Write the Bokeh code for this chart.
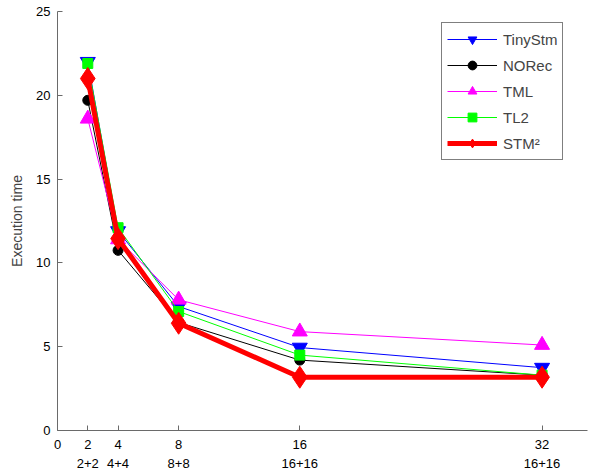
import numpy as np
from bokeh.plotting import figure
from bokeh.models import FixedTicker, LinearAxis, Range1d, Legend, LegendItem
from bokeh.embed import file_html
from bokeh.resources import INLINE

# ---- data ----
threads = [2, 4, 8, 16, 32]
x_ticks = [0, 2, 4, 8, 16, 32]
x_sub_labels = ["2+2", "4+4", "8+8", "16+16", "16+16"]
y_ticks = [0, 5, 10, 15, 20, 25]

tinystm = [22.0, 11.9, 7.4, 4.95, 3.75]
norec = [19.7, 10.75, 6.45, 4.2, 3.3]
tml = [18.6, 11.4, 7.8, 5.9, 5.1]
tl2 = [21.9, 12.1, 7.1, 4.5, 3.3]
stm2 = [21.0, 11.45, 6.4, 3.18, 3.18]

FONT = "Liberation Sans"

p = figure(width=593, height=473, x_range=Range1d(0, 35), y_range=Range1d(0, 25),
           output_backend="svg", toolbar_location=None,
           min_border_left=57, min_border_right=6, min_border_top=11, min_border_bottom=43)
p.outline_line_color = None
p.xgrid.visible = False
p.ygrid.visible = False

AX = "#6a6a6a"
for ax in [p.xaxis[0], p.yaxis[0]]:
    ax.axis_line_color = AX
    ax.major_tick_line_color = AX
    ax.major_tick_in = 5
    ax.major_tick_out = 0
    ax.minor_tick_line_color = None
    ax.major_label_text_font = FONT
    ax.major_label_text_font_size = "13px"
    ax.major_label_text_color = "black"

p.xaxis[0].ticker = FixedTicker(ticks=x_ticks)
p.xaxis[0].major_label_standoff = 9
p.yaxis[0].ticker = FixedTicker(ticks=y_ticks)
p.yaxis[0].major_label_standoff = 7
p.yaxis[0].axis_label = "Execution time"
p.yaxis[0].axis_label_text_font = FONT
p.yaxis[0].axis_label_text_font_size = "14px"
p.yaxis[0].axis_label_text_font_style = "normal"
p.yaxis[0].axis_label_standoff = 8

ax2 = LinearAxis(ticker=FixedTicker(ticks=threads),
                 major_label_overrides={t: s for t, s in zip(threads, x_sub_labels)},
                 axis_line_color=None, major_tick_line_color=None,
                 major_tick_in=0, major_tick_out=0, minor_tick_line_color=None,
                 major_label_standoff=7, major_label_text_font=FONT,
                 major_label_text_font_size="13px", major_label_text_color="black")
p.add_layout(ax2, "below")

series = [
    ("TinyStm", tinystm, "#0000ff", 1, "inverted_triangle", 15),
    ("NORec", norec, "#000000", 1, "circle", 10),
    ("TML", tml, "#ff00ff", 1, "triangle", 15),
    ("TL2", tl2, "#00ff00", 1, "square", 10),
    ("STM\u00b2", stm2, "#ff0000", 5, "diamond", 22),
]

items = []
for name, ys, col, lw, mk, sz in series:
    r1 = p.line(threads, ys, line_color=col, line_width=lw)
    r2 = p.scatter(threads, ys, marker=mk, size=sz,
                   fill_color=col, line_color=col)
    items.append(LegendItem(label=name, renderers=[r1, r2]))

legend = Legend(items=items, location=(384, 270))
legend.border_line_color = "black"
legend.border_line_width = 1
legend.background_fill_color = "white"
legend.background_fill_alpha = 1
legend.label_text_font = FONT
legend.label_text_font_size = "15px"
legend.glyph_width = 50
legend.glyph_height = 22
legend.label_height = 22
legend.spacing = 4
legend.padding = 5
legend.margin = 0
legend.label_standoff = 6
p.add_layout(legend)

open("out.html", "w").write(file_html(p, INLINE))
